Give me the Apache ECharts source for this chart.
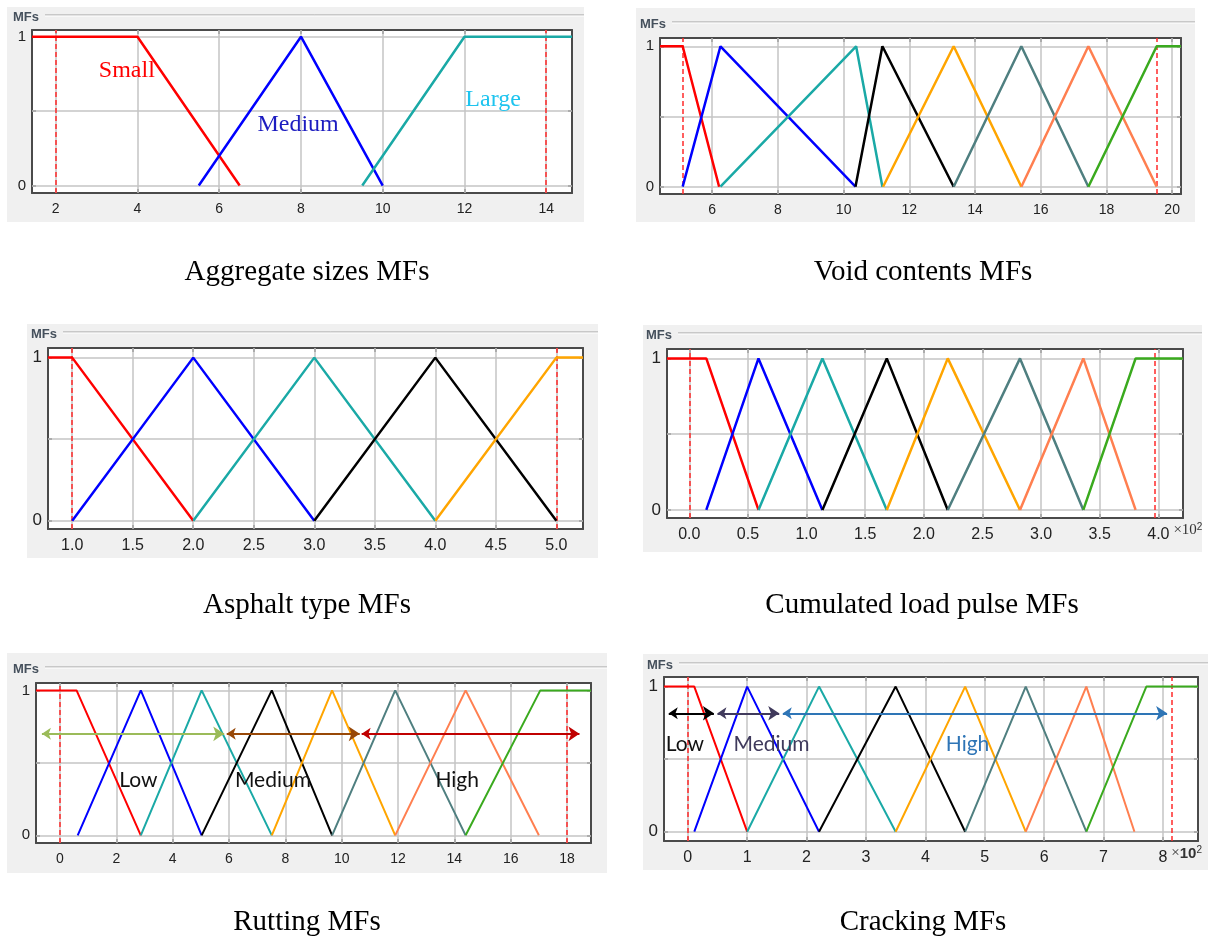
<!DOCTYPE html>
<html>
<head>
<meta charset="utf-8">
<script src="https://cdn.jsdelivr.net/npm/echarts@6/dist/echarts.min.js"></script>
<style>
html,body{margin:0;padding:0;background:#fff;}
#main{width:1210px;height:938px;}
</style>
</head>
<body>
<div id="main"></div>
<script>
// ---- data ----
// 1. Aggregate sizes
var aggTicks = [2, 4, 6, 8, 10, 12, 14];
var aggRange = [1.42, 14.63];
var aggBounds = [2, 14];
var aggSmall = [[1.42, 1], [4, 1], [6.5, 0]];
var aggMedium = [[5.5, 0], [8, 1], [10, 0]];
var aggLarge = [[9.5, 0], [12, 1], [14.63, 1]];
var aggNames = ['Small', 'Medium', 'Large'];
var aggNameAt = [[3.74, 0.77], [7.93, 0.41], [12.7, 0.575]];

// 2. Void contents
var voidTicks = [6, 8, 10, 12, 14, 16, 18, 20];
var voidRange = [4.41, 20.27];
var voidBounds = [5.1, 19.53];
var voidMFs = [
    [[4.41, 1], [5.1, 1], [6.21, 0]],
    [[5.1, 0], [6.25, 1], [10.36, 0]],
    [[6.25, 0], [10.38, 1], [11.18, 0]],
    [[10.36, 0], [11.18, 1], [13.35, 0]],
    [[11.2, 0], [13.35, 1], [15.41, 0]],
    [[13.35, 0], [15.41, 1], [17.45, 0]],
    [[15.41, 0], [17.45, 1], [19.53, 0]],
    [[17.45, 0], [19.53, 1], [20.27, 1]]
];

// 3. Asphalt type
var asphaltTicks = [1, 1.5, 2, 2.5, 3, 3.5, 4, 4.5, 5];
var asphaltTickLabels = ['1.0', '1.5', '2.0', '2.5', '3.0', '3.5', '4.0', '4.5', '5.0'];
var asphaltRange = [0.8, 5.22];
var asphaltBounds = [1, 5];
var asphaltMFs = [
    [[0.8, 1], [1, 1], [2, 0]],
    [[1, 0], [2, 1], [3, 0]],
    [[2, 0], [3, 1], [4, 0]],
    [[3, 0], [4, 1], [5, 0]],
    [[4, 0], [5, 1], [5.22, 1]]
];

// 4. Cumulated load pulse (x 10^2)
var loadTicks = [0, 0.5, 1, 1.5, 2, 2.5, 3, 3.5, 4];
var loadTickLabels = ['0.0', '0.5', '1.0', '1.5', '2.0', '2.5', '3.0', '3.5', '4.0'];
var loadRange = [-0.19, 4.21];
var loadBounds = [0, 3.97];
var loadMFs = [
    [[-0.19, 1], [0.145, 1], [0.59, 0]],
    [[0.145, 0], [0.59, 1], [1.135, 0]],
    [[0.59, 0], [1.135, 1], [1.684, 0]],
    [[1.135, 0], [1.684, 1], [2.204, 0]],
    [[1.684, 0], [2.204, 1], [2.82, 0]],
    [[2.204, 0], [2.82, 1], [3.36, 0]],
    [[2.82, 0], [3.36, 1], [3.806, 0]],
    [[3.36, 0], [3.806, 1], [4.21, 1]]
];

// 5. Rutting
var rutTicks = [0, 2, 4, 6, 8, 10, 12, 14, 16, 18];
var rutRange = [-0.85, 18.85];
var rutBounds = [0, 18];
var rutMFs = [
    [[-0.85, 1], [0.59, 1], [2.87, 0]],
    [[0.63, 0], [2.87, 1], [5.03, 0]],
    [[2.87, 0], [5.03, 1], [7.52, 0]],
    [[5.03, 0], [7.52, 1], [9.66, 0]],
    [[7.52, 0], [9.66, 1], [11.9, 0]],
    [[9.66, 0], [11.9, 1], [14.4, 0]],
    [[11.9, 0], [14.4, 1], [17.0, 0]],
    [[14.4, 0], [17.05, 1], [18.85, 1]]
];
var rutClasses = ['Low', 'Medium', 'High'];
var rutArrows = [[-0.64, 5.83], [5.92, 10.64], [10.71, 18.44]];
var rutArrowLevel = 0.70;
var rutClassAt = [[2.78, 0.38], [7.56, 0.38], [14.1, 0.38]];

// 6. Cracking (x 10^2)
var crackTicks = [0, 1, 2, 3, 4, 5, 6, 7, 8];
var crackRange = [-0.4, 8.59];
var crackBounds = [0, 8.15];
var crackMFs = [
    [[-0.4, 1], [0.11, 1], [1.0, 0]],
    [[0.11, 0], [1.0, 1], [2.21, 0]],
    [[1.0, 0], [2.21, 1], [3.5, 0]],
    [[2.21, 0], [3.5, 1], [4.67, 0]],
    [[3.5, 0], [4.67, 1], [5.69, 0]],
    [[4.67, 0], [5.69, 1], [6.71, 0]],
    [[5.69, 0], [6.71, 1], [7.52, 0]],
    [[6.71, 0], [7.72, 1], [8.59, 1]]
];
var crackClasses = ['Low', 'Medium', 'High'];
var crackArrows = [[-0.32, 0.44], [0.5, 1.54], [1.6, 8.07]];
var crackArrowLevel = 0.816;
var crackClassAt = [[-0.05, 0.6], [1.41, 0.6], [4.71, 0.6]];

var mfLevels = [0, 0.5, 1];
var mfLabels = [0, 1];

// ---- layout & style ----
var mfColors = ['#ff0000', '#0000ff', '#1aa9a6', '#000000', '#ffa500', '#4f7f80', '#ff7f50', '#3aaa1e'];
var boxes = [
    {left: 32, top: 30, width: 540, height: 163},
    {left: 660, top: 38, width: 521, height: 156},
    {left: 48, top: 348, width: 535, height: 181},
    {left: 667, top: 349, width: 516, height: 169},
    {left: 36, top: 683, width: 555, height: 160},
    {left: 664, top: 677, width: 534, height: 164}
];
var yRanges = [[-0.05, 1.045], [-0.052, 1.059], [-0.051, 1.059], [-0.053, 1.062], [-0.053, 1.051], [-0.064, 1.066]];
var panelBg = [[7, 7, 577, 215], [636, 8, 559, 214], [27, 324, 571, 234], [643, 325, 559, 227], [7, 653, 600, 220], [643, 654, 565, 216]];
var mfsAt = [[13, 17], [640, 24], [31, 334], [646, 335], [13, 669], [647, 665]];
var captions = ['Aggregate sizes MFs', 'Void contents MFs', 'Asphalt type MFs', 'Cumulated load pulse MFs', 'Rutting MFs', 'Cracking MFs'];
var captionAt = [[307, 272], [923, 272], [307, 605], [922, 605], [307, 922], [923, 922]];

var chart = echarts.init(document.getElementById('main'));

var grids = [], xAxes = [], yAxes = [], series = [], graphics = [];

function addPanel(p, o) {
    var b = boxes[p];
    grids.push({left: b.left, top: b.top, width: b.width, height: b.height, containLabel: false});
    var frame = {show: true, onZero: false, lineStyle: {color: '#4a4a4a', width: 2}};
    var tickStyle = {color: '#333', width: 1.5};
    var labelFont = {
        color: '#222',
        fontSize: o.fontSize,
        fontFamily: o.fontFamily
    };
    xAxes.push({
        type: 'value', gridIndex: p, position: 'bottom', min: o.range[0], max: o.range[1], z: 4,
        axisLine: frame,
        axisTick: {show: true, inside: true, length: 4, customValues: o.ticks, lineStyle: tickStyle},
        axisLabel: Object.assign({
            customValues: o.ticks, margin: 9,
            formatter: function (v) {
                var i = o.ticks.indexOf(v);
                return o.tickLabels ? o.tickLabels[i] : String(v);
            }
        }, labelFont),
        splitLine: {show: false},
        name: o.unit || '', nameLocation: 'end', nameGap: o.unitGap || 0,
        nameTextStyle: {
            align: 'left', verticalAlign: 'top', padding: [4, 0, 0, 0],
            rich: {
                m: {fontSize: 15, color: '#333', fontFamily: 'Liberation Serif'},
                t: {fontSize: 15, color: '#333', fontFamily: o.unitFont || 'Liberation Serif', fontWeight: o.unitWeight || 'normal'},
                s: {fontSize: 10, color: '#333', verticalAlign: 'top', padding: [0, 0, 7, 0]}
            }
        }
    });
    xAxes.push({
        type: 'value', gridIndex: p, position: 'top', min: o.range[0], max: o.range[1], z: 4,
        axisLine: frame,
        axisTick: {show: true, inside: true, length: 4, customValues: o.ticks, lineStyle: tickStyle},
        axisLabel: {show: false},
        splitLine: {show: false}
    });
    yAxes.push({
        type: 'value', gridIndex: p, position: 'left', min: yRanges[p][0], max: yRanges[p][1], z: 4,
        axisLine: frame,
        axisTick: {show: true, inside: true, length: 4, customValues: mfLevels, lineStyle: tickStyle},
        axisLabel: Object.assign({customValues: mfLabels, margin: 6}, labelFont, {fontSize: o.fontSize + 1}),
        splitLine: {show: false}
    });
    yAxes.push({
        type: 'value', gridIndex: p, position: 'right', min: yRanges[p][0], max: yRanges[p][1], z: 4,
        axisLine: frame,
        axisTick: {show: true, inside: true, length: 4, customValues: mfLevels, lineStyle: tickStyle},
        axisLabel: {show: false},
        splitLine: {show: false}
    });
    var xi = 2 * p, yi = 2 * p;
    // grid lines
    series.push({
        type: 'line', xAxisIndex: xi, yAxisIndex: yi, data: [], z: 2, silent: true,
        markLine: {
            silent: true, symbol: ['none', 'none'], label: {show: false}, animation: false,
            lineStyle: {color: '#c4c4c4', width: 1.5, type: 'solid'},
            data: o.ticks.map(function (v) { return {xAxis: v}; })
                .concat(mfLevels.map(function (v) { return {yAxis: v}; }))
        }
    });
    // range bounds
    series.push({
        type: 'line', xAxisIndex: xi, yAxisIndex: yi, data: [], z: 3, silent: true,
        markLine: {
            silent: true, symbol: ['none', 'none'], label: {show: false}, animation: false,
            lineStyle: {color: '#ff2a2a', width: 1.5, type: [5, 3]},
            data: o.bounds.map(function (v) { return {xAxis: v}; })
        }
    });
    o.curves.forEach(function (pts, k) {
        series.push({
            type: 'line', xAxisIndex: xi, yAxisIndex: yi, data: pts, z: 5,
            showSymbol: false, symbol: 'none', silent: true, animation: false,
            lineStyle: {color: (o.colors || mfColors)[k], width: o.lineWidth}
        });
    });
    if (o.arrows) {
        series.push({
            type: 'lines', coordinateSystem: 'cartesian2d', xAxisIndex: xi, yAxisIndex: yi, z: 6,
            symbol: ['arrow', 'arrow'], symbolSize: [9, 11], silent: true, animation: false,
            lineStyle: {width: 2, opacity: 1, curveness: 0},
            data: o.arrows.map(function (a, k) {
                return {
                    coords: [[a[0], o.arrowLevel], [a[1], o.arrowLevel]],
                    lineStyle: {color: o.arrowColors[k]}
                };
            })
        });
    }
    if (o.names) {
        series.push({
            type: 'scatter', xAxisIndex: xi, yAxisIndex: yi, z: 7, symbolSize: 1, silent: true,
            itemStyle: {color: 'rgba(0,0,0,0)', opacity: 1}, animation: false,
            label: {
                show: true, position: 'inside', formatter: '{b}', opacity: 1,
                textBorderWidth: 0, fontFamily: o.nameFont, fontSize: o.nameSize
            },
            data: o.names.map(function (n, k) {
                return {name: n, value: o.nameAt[k], label: {color: o.nameColors[k]}};
            })
        });
    }
}

var sansLabel = 'Liberation Sans';
var narrowLabel = '"Liberation Sans Narrow", "Liberation Sans"';

addPanel(0, {
    ticks: aggTicks, range: aggRange, bounds: aggBounds, lineWidth: 2.5,
    curves: [aggSmall, aggMedium, aggLarge], colors: ['#ff0000', '#0000ff', '#1aa9a6'],
    fontSize: 14, fontFamily: sansLabel,
    names: aggNames, nameAt: aggNameAt, nameColors: ['#ff0000', '#1c1cc0', '#1ec4ef'],
    nameFont: 'Liberation Serif', nameSize: 24
});
addPanel(1, {
    ticks: voidTicks, range: voidRange, bounds: voidBounds, curves: voidMFs, lineWidth: 2.5,
    fontSize: 14, fontFamily: sansLabel
});
addPanel(2, {
    ticks: asphaltTicks, tickLabels: asphaltTickLabels, range: asphaltRange, bounds: asphaltBounds,
    curves: asphaltMFs, fontSize: 16, fontFamily: narrowLabel, lineWidth: 2.5
});
addPanel(3, {
    ticks: loadTicks, tickLabels: loadTickLabels, range: loadRange, bounds: loadBounds,
    curves: loadMFs, fontSize: 16, fontFamily: narrowLabel, lineWidth: 2.5,
    unit: '{m|×}{t|10}{s|2}', unitGap: -18
});
addPanel(4, {
    ticks: rutTicks, range: rutRange, bounds: rutBounds, curves: rutMFs, lineWidth: 2,
    fontSize: 14, fontFamily: sansLabel,
    arrows: rutArrows, arrowLevel: rutArrowLevel, arrowColors: ['#9bbb59', '#984807', '#c00000'],
    names: rutClasses, nameAt: rutClassAt, nameColors: ['#111111', '#111111', '#111111'],
    nameFont: 'Lato', nameSize: 21
});
addPanel(5, {
    ticks: crackTicks, range: crackRange, bounds: crackBounds, curves: crackMFs, lineWidth: 2,
    fontSize: 16, fontFamily: narrowLabel,
    unit: '{m|×}{t|10}{s|2}', unitGap: -27, unitFont: 'Liberation Sans', unitWeight: 'bold',
    arrows: crackArrows, arrowLevel: crackArrowLevel, arrowColors: ['#000000', '#403a5c', '#2e75b6'],
    names: crackClasses, nameAt: crackClassAt, nameColors: ['#111111', '#3f3a5c', '#2e75b6'],
    nameFont: 'Lato', nameSize: 21
});

// panel chrome: grey frame, white plot area, "MFs" header, captions
panelBg.forEach(function (r, p) {
    graphics.push({type: 'rect', z: -20, silent: true,
        shape: {x: r[0], y: r[1], width: r[2], height: r[3]}, style: {fill: '#f0f0f0'}});
    var b = boxes[p];
    graphics.push({type: 'rect', z: -19, silent: true,
        shape: {x: b.left, y: b.top, width: b.width, height: b.height}, style: {fill: '#ffffff'}});
    var m = mfsAt[p];
    graphics.push({type: 'line', z: -18, silent: true,
        shape: {x1: m[0] + 32, y1: m[1] - 2, x2: r[0] + r[2], y2: m[1] - 2},
        style: {stroke: '#a0a0a0', lineWidth: 1}});
    graphics.push({type: 'line', z: -18, silent: true,
        shape: {x1: m[0] + 32, y1: m[1] - 1, x2: r[0] + r[2], y2: m[1] - 1},
        style: {stroke: '#ffffff', lineWidth: 1}});
    graphics.push({type: 'text', z: -17, silent: true, x: m[0], y: m[1],
        style: {text: 'MFs', font: 'bold 13px "Liberation Sans"', fill: '#45505c',
            align: 'left', verticalAlign: 'middle', textAlign: 'left', textVerticalAlign: 'middle'}});
});
captions.forEach(function (c, p) {
    graphics.push({type: 'text', silent: true, x: captionAt[p][0], y: captionAt[p][1],
        style: {text: c, font: '29px "Liberation Serif"', fill: '#000',
            align: 'center', verticalAlign: 'middle', textAlign: 'center', textVerticalAlign: 'middle'}});
});

chart.setOption({
    animation: false,
    backgroundColor: '#ffffff',
    grid: grids,
    xAxis: xAxes,
    yAxis: yAxes,
    series: series,
    graphic: {elements: graphics}
});
</script>
</body>
</html>
